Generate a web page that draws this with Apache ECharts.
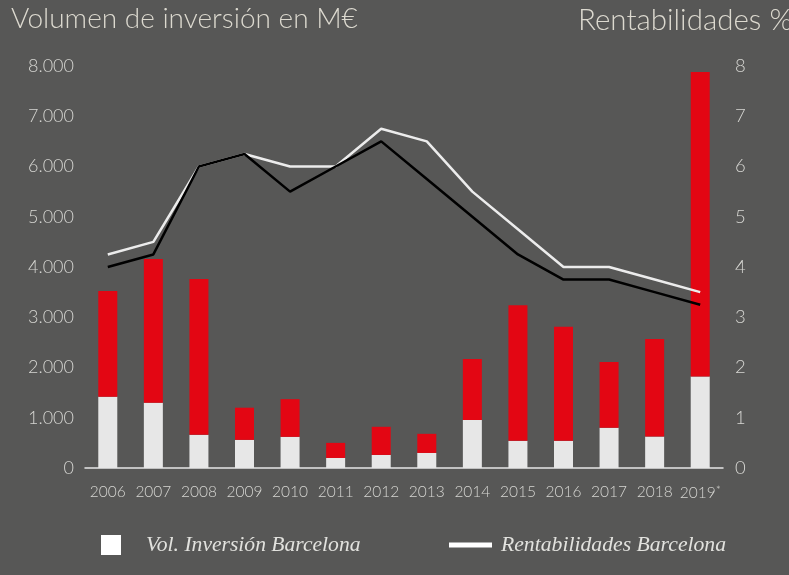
<!DOCTYPE html>
<html>
<head>
<meta charset="utf-8">
<script src="https://cdn.jsdelivr.net/npm/echarts@6/dist/echarts.min.js"></script>
<style>
html,body{margin:0;padding:0;background:#575756;}
#chart{width:789px;height:575px;}
</style>
</head>
<body>
<div id="chart"></div>
<script>
// Data
const years = ['2006','2007','2008','2009','2010','2011','2012','2013','2014','2015','2016','2017','2018','2019*'];
const volBarcelona = [1420,1300,660,560,620,200,260,300,955,540,540,800,625,1820];
const volResto =     [2100,2860,3100,640,750,300,560,380,1215,2700,2270,1310,1940,6060];
const rentBarcelona = [4.25,4.5,6,6.25,6,6,6.75,6.5,5.5,4.75,4,4,3.75,3.5];
const rentOtra =      [4,4.25,6,6.25,5.5,6,6.5,5.75,5,4.25,3.75,3.75,3.5,3.25];
const leftTicks = [0,1000,2000,3000,4000,5000,6000,7000,8000];
const rightTicks = [0,1,2,3,4,5,6,7,8];

const FONT = 'Lato';
const txt = '#d6d6d2';
const chart = echarts.init(document.getElementById('chart'), null, {renderer:'canvas'});
chart.setOption({
  backgroundColor:'#575756',
  animation:false,
  title:[
    {text:'Volumen de inversión en M€', left:6, top:0,
     textStyle:{color:'#dcd9cf', fontFamily:FONT, fontWeight:300, fontSize:28}},
    {text:'Rentabilidades %', left:573, top:0,
     textStyle:{color:'#dcd9cf', fontFamily:FONT, fontWeight:300, fontSize:29.5}}
  ],
  legend:[
    {data:['Vol. Inversión Barcelona'], left:101, top:534, itemWidth:20, itemHeight:20, padding:0,
     icon:'rect', itemGap:0, itemStyle:{color:'#ffffff'},
     textStyle:{color:'#e2e2de', fontFamily:'Liberation Serif', fontStyle:'italic', fontSize:21.6, padding:[0,0,0,20]}},
    {data:['Rentabilidades Barcelona'], left:449, top:534, itemWidth:43, itemHeight:5, padding:0,
     icon:'rect', itemStyle:{color:'#ffffff'},
     textStyle:{color:'#e2e2de', fontFamily:'Liberation Serif', fontStyle:'italic', fontSize:21.7, padding:[0,0,0,4]}}
  ],
  grid:{left:85, right:66, top:66, bottom:107},
  xAxis:{
    type:'category', data:years,
    axisLine:{lineStyle:{color:'#e6e6e6', width:1.5}},
    axisTick:{show:false},
    axisLabel:{color:txt, fontFamily:FONT, fontWeight:300, fontSize:15.5, margin:16, interval:0,
      formatter:v=>v.replace('*','{s|*}'),
      rich:{s:{fontSize:12, verticalAlign:'top', color:txt, fontFamily:FONT, padding:[0,0,5,0]}}}
  },
  yAxis:[
    {type:'value', min:leftTicks[0], max:leftTicks[leftTicks.length-1], interval:1000,
     splitLine:{show:false}, axisLine:{show:false}, axisTick:{show:false},
     axisLabel:{color:txt, fontFamily:FONT, fontWeight:300, fontSize:18, margin:11, padding:[14,0,0,0],
       formatter:v=> v===0 ? '0' : (v/1000)+'.000'}},
    {type:'value', min:rightTicks[0], max:rightTicks[rightTicks.length-1], interval:1,
     splitLine:{show:false}, axisLine:{show:false}, axisTick:{show:false},
     axisLabel:{color:txt, fontFamily:FONT, fontWeight:300, fontSize:18.5, margin:12, padding:[14,0,0,0]}}
  ],
  series:[
    {name:'Vol. Inversión Barcelona', type:'bar', stack:'v', data:volBarcelona, barWidth:19,
     itemStyle:{color:'#e7e7e7'}},
    {name:'Vol. Inversión Resto', type:'bar', stack:'v', data:volResto, barWidth:19,
     itemStyle:{color:'#e30613'}},
    {name:'Rentabilidades Barcelona', type:'line', yAxisIndex:1, data:rentBarcelona,
     showSymbol:false, symbol:'none', lineStyle:{color:'#ececec', width:2.5}, itemStyle:{color:'#ffffff'}, z:3},
    {name:'Rentabilidades Otra', type:'line', yAxisIndex:1, data:rentOtra,
     showSymbol:false, symbol:'none', lineStyle:{color:'#000000', width:2.5}, itemStyle:{color:'#000'}, z:4}
  ]
});
</script>
</body>
</html>
